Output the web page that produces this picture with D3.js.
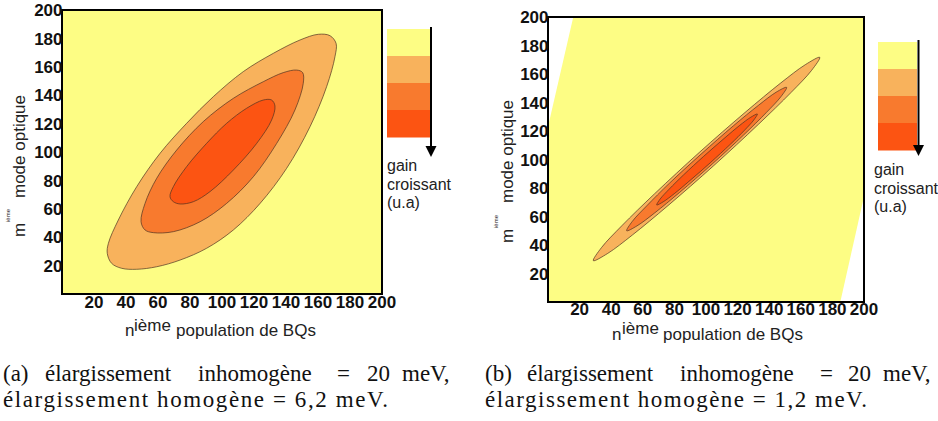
<!DOCTYPE html>
<html><head><meta charset="utf-8">
<script src="https://cdn.jsdelivr.net/npm/d3@7"></script>
<style>body{margin:0;background:#fff}</style>
</head><body>
<svg id="c" width="938" height="421" xmlns="http://www.w3.org/2000/svg"></svg>
<script>
// ---------------- DATA ----------------
const xTicks = [20, 40, 60, 80, 100, 120, 140, 160, 180, 200];
const yTicks = [20, 40, 60, 80, 100, 120, 140, 160, 180, 200];
const levelColors = ["#FDFD84", "#F8B25C", "#F87A2E", "#FC5412"];
const legendLines = ["gain", "croissant", "(u.a)"];
const xTitle = ["n", "ième", "population de BQs"];
const yTitle = ["m", "ième", "mode optique"];

// contour outlines (n, m) — panel (a)
const aLevel1 = [[28.3,28.6],[31.0,21.6],[37.3,18.1],[46.7,17.4],[59.2,19.2],[73.8,23.9],[90.4,32.2],[107.1,45.1],[123.8,63.8],[140.4,88.5],[155,117.8],[165.4,146],[170.6,167.1],[171.3,176.5],[167.5,181.9],[160.2,182.9],[148.8,178.9],[132.1,169.5],[113.3,156.6],[94.6,139],[77.9,120.2],[61.3,99.1],[46.7,75.6],[35.2,52.1],[29,35.7]];
const aLevel2 = [[49.4,50.9],[51.9,45.1],[57.1,43.2],[69.6,43.9],[86.3,50.9],[102.9,63.8],[119.6,82.6],[134.2,106.1],[145.6,129.6],[150.8,148.4],[150.4,155.9],[146.7,157.7],[138.3,155.9],[125.8,149.5],[107.1,137.8],[88.3,121.4],[71.7,101.4],[59.2,81.5],[51.9,63.8]];
const aLevel3 = [[67.5,68.5],[69.6,65],[73.8,63.4],[82.1,65],[92.5,72.1],[107.1,87.3],[121.7,106.1],[131,122.5],[133.1,132.4],[131,136.6],[125.8,136.6],[115.4,130.8],[102.9,120.2],[90.4,106.1],[77.9,89.7],[69.6,75.6]];
const aBackground = [[0,0],[200,0],[200,200],[0,200]];

// panel (b)
const bLevel1 = [[28.7,29],[37.8,34.1],[53.4,47.0],[75.9,67.6],[104.9,95.7],[133.1,124.6],[153.8,147.0],[166.8,162.5],[172,171.7],[162.8,166.5],[147.2,153.6],[124.7,133.0],[95.7,104.9],[67.5,76.0],[46.8,53.6],[33.8,38.1]];
const bLevel2 = [[49.8,50],[56.3,53.4],[67.5,62.5],[83.3,76.9],[103.9,96.8],[123.9,117.3],[138.3,133.1],[147.5,144.2],[151,150.6],[144.5,147.3],[133.3,138.1],[117.5,123.8],[96.9,103.8],[76.9,83.4],[62.5,67.5],[53.3,56.5]];
const bLevel3 = [[68.8,68.1],[72.9,70.3],[79.9,76.0],[89.9,85.3],[102.8,97.8],[115.4,110.7],[124.6,120.8],[130.3,127.8],[132.5,131.9],[128.4,129.7],[121.4,124.0],[111.4,114.7],[98.5,102.2],[85.9,89.3],[76.7,79.2],[71.0,72.3]];
const bBackground = [[16,200],[200,200],[200,74],[185,0],[0,0],[0,123]];

const captionA1 = ["(a)", "élargissement", "inhomogène", "=", "20", "meV,"];
const captionA2 = "élargissement homogène = 6,2 meV.";
const captionB1 = ["(b)", "élargissement", "inhomogène", "=", "20", "meV,"];
const captionB2 = "élargissement homogène = 1,2 meV.";

// ---------------- LAYOUT ----------------
const panels = [
  { box: {x0: 62, x1: 382, y0: 10, y1: 294}, bg: aBackground, levels: [aLevel1, aLevel2, aLevel3],
    xLabBase: 308, xt: {n: 125, sup: 134, rest: 176, base: 336, supBase: 331},
    yt: {x: 25, mY: 237, supX: 10, supY: 222, restY: 198},
    legend: {x: 387, w: 43, y0: 29, y1: 137, ax: 431, tip: 157, tx: 387, ty: 171},
    cap: {words: captionA1, xs: [3, 45, 198, 337, 367, 402], line2: captionA2, l2x: 3, l2w: 385} },
  { box: {x0: 548, x1: 864, y0: 17, y1: 302}, bg: bBackground, levels: [bLevel1, bLevel2, bLevel3],
    xLabBase: 315, xt: {n: 612, sup: 622, rest: 663, base: 340, supBase: 334},
    yt: {x: 513, mY: 243, supX: 498, supY: 228, restY: 203},
    legend: {x: 878, w: 39, y0: 42, y1: 150, ax: 918.5, tip: 156, tx: 874, ty: 175},
    cap: {words: captionB1, xs: [485, 527, 680, 820, 848, 883], line2: captionB2, l2x: 485, l2w: 382} }
];

const svg = d3.select("#c");
svg.append("rect").attr("width", 938).attr("height", 421).attr("fill", "#fff");

const sans = "'Liberation Sans', Arial, sans-serif";
const serif = "'Liberation Serif', 'Times New Roman', serif";

panels.forEach((p, pi) => {
  const b = p.box;
  const x = d3.scaleLinear().domain([0, 200]).range([b.x0, b.x1]);
  const y = d3.scaleLinear().domain([0, 200]).range([b.y1, b.y0]);
  const g = svg.append("g");
  const clipId = "clip" + pi;
  g.append("clipPath").attr("id", clipId).append("rect")
    .attr("x", b.x0).attr("y", b.y0).attr("width", b.x1 - b.x0).attr("height", b.y1 - b.y0);
  const plot = g.append("g").attr("clip-path", `url(#${clipId})`);

  const poly = d3.line().x(d => x(d[0])).y(d => y(d[1]));
  plot.append("path").attr("d", poly(p.bg) + "Z").attr("fill", levelColors[0]);

  const smooth = d3.line().x(d => x(d[0])).y(d => y(d[1])).curve(d3.curveCatmullRomClosed.alpha(0.5));
  p.levels.forEach((lv, i) => {
    plot.append("path").attr("d", smooth(lv))
      .attr("fill", levelColors[i + 1])
      .attr("stroke", "#4a3020").attr("stroke-width", 0.8).attr("stroke-opacity", 0.85);
  });

  // frame
  g.append("rect").attr("x", b.x0).attr("y", b.y0).attr("width", b.x1 - b.x0).attr("height", b.y1 - b.y0)
    .attr("fill", "none").attr("stroke", "#000").attr("stroke-width", 2);

  // tick labels
  g.selectAll(".xl").data(xTicks).enter().append("text")
    .attr("x", d => x(d)).attr("y", p.xLabBase).attr("text-anchor", "middle")
    .attr("font-family", sans).attr("font-weight", "bold").attr("font-size", 17).attr("fill", "#111")
    .text(d => d);
  g.selectAll(".yl").data(yTicks).enter().append("text")
    .attr("x", b.x0 + 0.5).attr("y", d => y(d)).attr("dy", "0.36em").attr("text-anchor", "end")
    .attr("font-family", sans).attr("font-weight", "bold").attr("font-size", 17).attr("fill", "#111")
    .text(d => d);

  // x title
  const xt = p.xt;
  g.append("text").attr("x", xt.n).attr("y", xt.base).attr("font-family", sans).attr("font-size", 17).attr("fill", "#222").text(xTitle[0]);
  g.append("text").attr("x", xt.sup).attr("y", xt.supBase).attr("font-family", sans).attr("font-size", 17).attr("fill", "#222").text(xTitle[1]);
  g.append("text").attr("x", xt.rest).attr("y", xt.base).attr("font-family", sans).attr("font-size", 17).attr("fill", "#222").text(xTitle[2]);

  // y title (rotated)
  const yt = p.yt;
  g.append("text").attr("transform", `translate(${yt.x},${yt.mY}) rotate(-90)`).attr("font-family", sans).attr("font-size", 17).attr("fill", "#222").text(yTitle[0]);
  g.append("text").attr("transform", `translate(${yt.supX},${yt.supY}) rotate(-90)`).attr("font-family", sans).attr("font-size", 6).attr("fill", "#222").text(yTitle[1]);
  g.append("text").attr("transform", `translate(${yt.x},${yt.restY}) rotate(-90)`).attr("font-family", sans).attr("font-size", 17).attr("fill", "#222").text(yTitle[2]);

  // legend
  const L = p.legend;
  const band = d3.scaleBand().domain(d3.range(levelColors.length)).range([L.y0, L.y1]);
  g.selectAll(".lg").data(levelColors).enter().append("rect")
    .attr("x", L.x).attr("y", (d, i) => band(i)).attr("width", L.w).attr("height", band.bandwidth() + 0.5)
    .attr("fill", d => d);
  g.append("line").attr("x1", L.ax).attr("x2", L.ax).attr("y1", L.y0 - 2).attr("y2", L.tip - 8)
    .attr("stroke", "#000").attr("stroke-width", 2);
  g.append("path").attr("d", `M${L.ax - 5.5},${L.tip - 11}L${L.ax + 5.5},${L.tip - 11}L${L.ax},${L.tip}Z`).attr("fill", "#000");
  legendLines.forEach((t, i) => {
    g.append("text").attr("x", L.tx).attr("y", L.ty + i * 18.7).attr("font-family", sans).attr("font-size", 16).attr("fill", "#222").text(t);
  });

  // caption
  const c = p.cap;
  c.words.forEach((w, i) => {
    g.append("text").attr("x", c.xs[i]).attr("y", 381).attr("font-family", serif).attr("font-size", 23).attr("fill", "#111").text(w);
  });
  g.append("text").attr("x", c.l2x).attr("y", 407).attr("font-family", serif).attr("font-size", 23).attr("fill", "#111")
    .attr("textLength", c.l2w).attr("lengthAdjust", "spacing").text(c.line2);
});
</script>
</body></html>
